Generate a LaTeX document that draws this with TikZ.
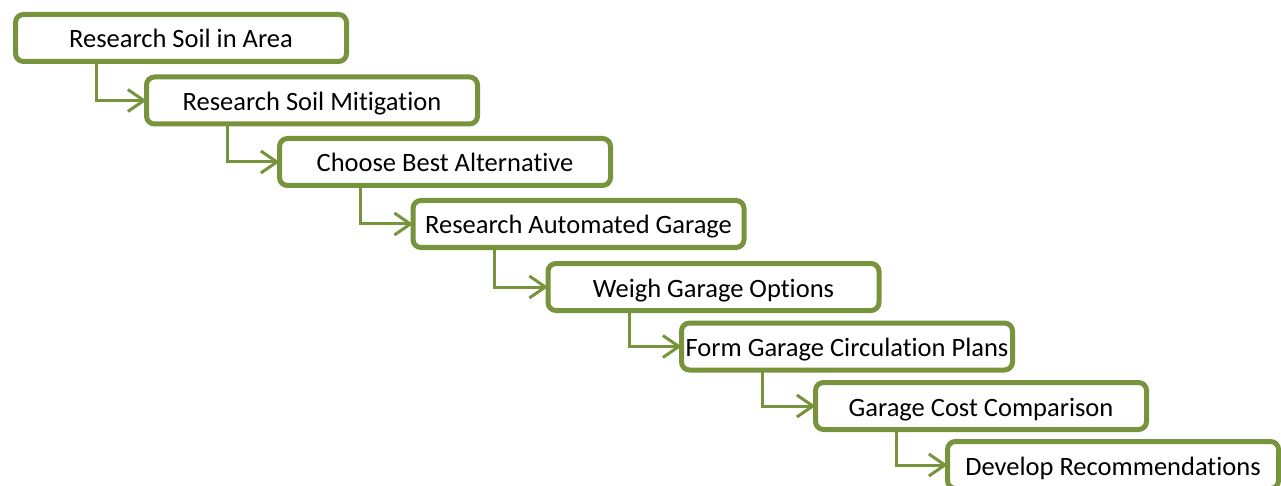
\documentclass[tikz,border=0pt]{standalone}
\usepackage{fontspec}
\setmainfont{Carlito}[Ligatures={NoCommon}]
\usetikzlibrary{arrows.meta,calc}
\definecolor{olive}{RGB}{119,147,60}
\begin{document}
\begin{tikzpicture}[x=1pt,y=-1pt,
  stepbox/.style={draw=olive,line width=5pt,rounded corners=8pt,fill=white,
    minimum width=331pt,minimum height=47pt,inner sep=0pt,outer sep=0pt,
    text height=22pt,text depth=2pt,
    font=\fontsize{26.5}{30}\selectfont,text=black},
  conn/.style={draw=olive,line width=3pt,-{Straight Barb[length=16pt,width=22pt,line width=3pt]}}]
\useasboundingbox (0,0) rectangle (1281,486);
\node[stepbox] (b1) at (181,38) {Research Soil in Area};
\node[stepbox] (b2) at (312,100.5) {Research Soil Mitigation};
\node[stepbox] (b3) at (445,162) {Choose Best Alternative};
\node[stepbox] (b4) at (578.5,224) {Research Automated Garage};
\node[stepbox] (b5) at (713.5,287) {Weigh Garage Options};
\node[stepbox] (b6) at (847,346.5) {Form Garage Circulation Plans};
\node[stepbox] (b7) at (981,406) {Garage Cost Comparison};
\node[stepbox] (b8) at (1113,465) {Develop Recommendations};
\foreach \a/\b in {b1/b2,b2/b3,b3/b4,b4/b5,b5/b6,b6/b7,b7/b8}
  \draw[conn] ([xshift=81pt]\a.south west) |- (\b.west);
\end{tikzpicture}
\end{document}
